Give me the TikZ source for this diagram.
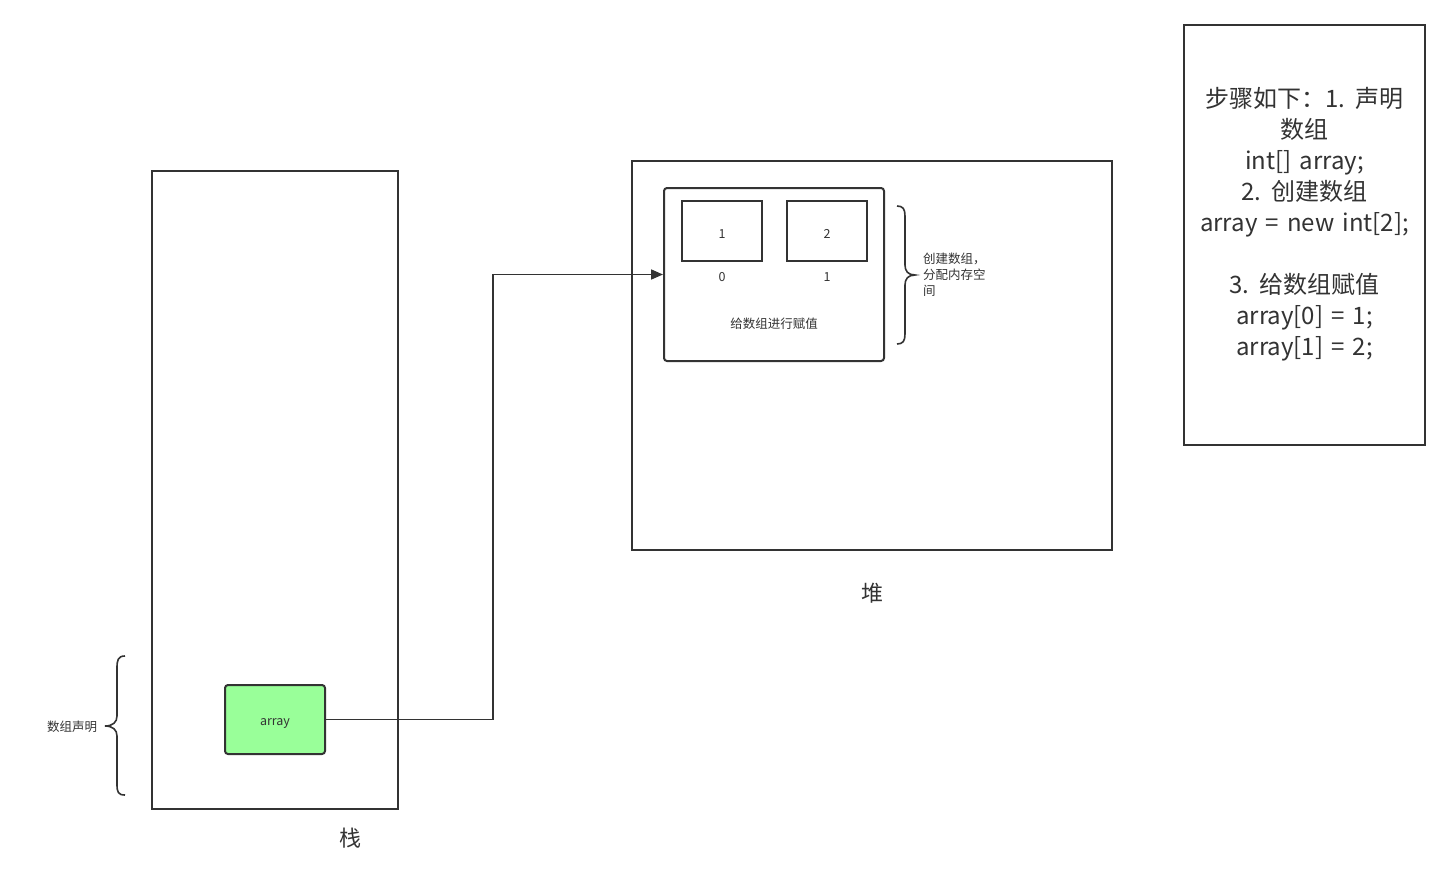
\documentclass[tikz,border=0pt]{standalone}
\usepackage{fontspec}
\setmainfont[WordSpace=1.5]{Noto Sans CJK SC}
\usetikzlibrary{arrows.meta}
\definecolor{ink}{HTML}{333333}
\definecolor{green1}{HTML}{99FF99}
\tikzset{
  box/.style={draw=ink, line width=2pt, fill=white, inner sep=0pt},
  rbox/.style={draw=ink, line width=2pt, rounded corners=3pt, inner sep=0pt},
  lbl/.style={text=ink, inner sep=0pt, font=\fontsize{12.5}{16}\selectfont},
  big/.style={text=ink, inner sep=0pt, font=\fontsize{22}{28}\selectfont},
  conn/.style={draw=ink, line width=1.7pt, -{Triangle[length=12pt,width=10pt]}},
  brc/.style={draw=ink, line width=1.6pt}
}
\begin{document}
\begin{tikzpicture}[x=1pt,y=-1pt]
\useasboundingbox (0,0) rectangle (1450,881);
% stack
\node[box, minimum width=246pt, minimum height=638pt] (stack) at (275,490) {};
\node[big] (stacklbl) at (350,838) {栈};
\node[rbox, fill=green1, minimum width=100pt, minimum height=69pt] (arr) at (275,719.5) {};
\node[lbl] (arrlbl) at (275,723) {array};
% left brace
\draw[brc] (125,656) .. controls (118,656) and (117,660) .. (117,668)
  -- (117,716) .. controls (117,722) and (113,726) .. (105,726)
  .. controls (113,726) and (117,730) .. (117,736)
  -- (117,784) .. controls (117,792) and (118,795) .. (125,795);
\node[lbl] (decl) at (72,727) {数组声明};
% heap
\node[box, minimum width=480pt, minimum height=389pt] (heap) at (872,355.5) {};
\node[big] (heaplbl) at (872,593) {堆};
\node[rbox, minimum width=220pt, minimum height=173pt] (inner) at (774,274.5) {};
\node[box, minimum width=80pt, minimum height=60pt] (c1) at (722,231) {};
\node[box, minimum width=80pt, minimum height=60pt] (c2) at (827,231) {};
\node[lbl] (v1) at (722,234) {1};
\node[lbl] (v2) at (827,234) {2};
\node[lbl] (i0) at (722,277) {0};
\node[lbl] (i1) at (827,277) {1};
\node[lbl] (assign) at (774,324) {给数组进行赋值};
% right brace
\draw[brc] (897,206) .. controls (903,206) and (905,209) .. (905,216)
  -- (905,265) .. controls (905,271) and (908,275) .. (915,275)
  .. controls (908,275) and (905,279) .. (905,285)
  -- (905,334) .. controls (905,341) and (903,344) .. (897,344);
\node[lbl, anchor=north west, align=left] (create) at (923,253) {创建数组，\\分配内存空\\间};
% steps
\node[box, minimum width=241pt, minimum height=420pt] (steps) at (1304.5,235) {};
\node[text=ink, align=center, inner sep=0pt, font=\fontsize{24}{31}\selectfont] (stepstxt) at (1304.5,224) {步骤如下：1. 声明\\数组\\int[] array;\\2. 创建数组\\array = new int[2];\\[31pt]3. 给数组赋值\\array[0] = 1;\\array[1] = 2;};
% connector
\coordinate (bend) at (493,719.5);
\draw[conn] (arr.east) -- (bend) |- (inner.west);
\end{tikzpicture}
\end{document}
